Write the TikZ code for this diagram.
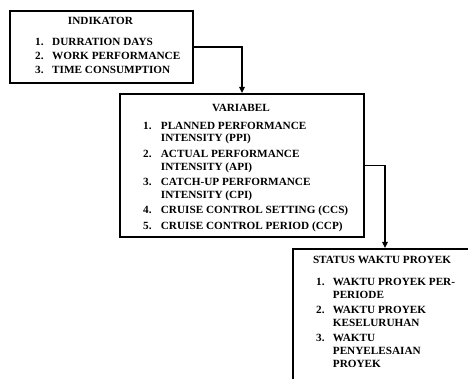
\documentclass[tikz,border=0pt]{standalone}
\usepackage{fontspec}
\setmainfont[FakeStretch=1.02]{Liberation Serif}
\usetikzlibrary{arrows.meta}
\tikzset{
  box/.style={draw, line width=1.8pt, rectangle, anchor=north west, inner sep=0pt},
  head/.style={anchor=base, inner sep=0pt, font=\fontsize{11}{13}\selectfont\bfseries},
  lst/.style={anchor=base west, inner sep=0pt, align=left},
  conn/.style={line width=1.6pt, -{Triangle[length=6pt,width=5.5pt]}}
}
\begin{document}
\begin{tikzpicture}[x=1pt,y=-1pt]
\useasboundingbox (0,0) rectangle (468,379);
\clip (0,0) rectangle (468,379);
% boxes
\node[box, minimum width=183pt, minimum height=72pt] (b1) at (9,10) {};
\node[box, minimum width=244pt, minimum height=143pt] (b2) at (119,93) {};
\node[box, minimum width=190pt, minimum height=150pt] (b3) at (292,248) {};
% headers
\node[head] (h1) at (100.5,24.4) {INDIKATOR};
\node[head] (h2) at (241,111.3) {VARIABEL};
\node[head] (h3) at (382,263.7) {STATUS WAKTU PROYEK};
% lists
\node[lst] (l1) at (35,46) {\fontsize{11}{13}\selectfont\bfseries
\begin{tabular}[t]{@{}p{17pt}@{}l@{}}
1. & DURRATION DAYS\\[1pt]
2. & WORK PERFORMANCE\\[1pt]
3. & TIME CONSUMPTION
\end{tabular}};
\node[lst] (l2) at (143,129.3) {\fontsize{11}{12.7}\selectfont\bfseries
\begin{tabular}[t]{@{}p{17.7pt}@{}l@{}}
1. & PLANNED PERFORMANCE\\
   & INTENSITY (PPI)\\[2.8pt]
2. & ACTUAL PERFORMANCE\\
   & INTENSITY (API)\\[2.8pt]
3. & CATCH-UP PERFORMANCE\\
   & INTENSITY (CPI)\\[2.8pt]
4. & CRUISE CONTROL SETTING (CCS)\\[2.8pt]
5. & CRUISE CONTROL PERIOD (CCP)
\end{tabular}};
\node[lst] (l3) at (316,285.4) {\fontsize{11}{13.2}\selectfont\bfseries
\begin{tabular}[t]{@{}p{16.7pt}@{}l@{}}
1. & WAKTU PROYEK PER-\\
   & PERIODE\\[1.5pt]
2. & WAKTU PROYEK\\
   & KESELURUHAN\\[1.5pt]
3. & WAKTU\\
   & PENYELESAIAN\\
   & PROYEK
\end{tabular}};
% connectors
\coordinate (t2) at (242,93);
\coordinate (t3) at (385,248);
\draw[conn] (b1.east) -| (t2);
\draw[conn] (b2.east) -| (t3);
\end{tikzpicture}
\end{document}
